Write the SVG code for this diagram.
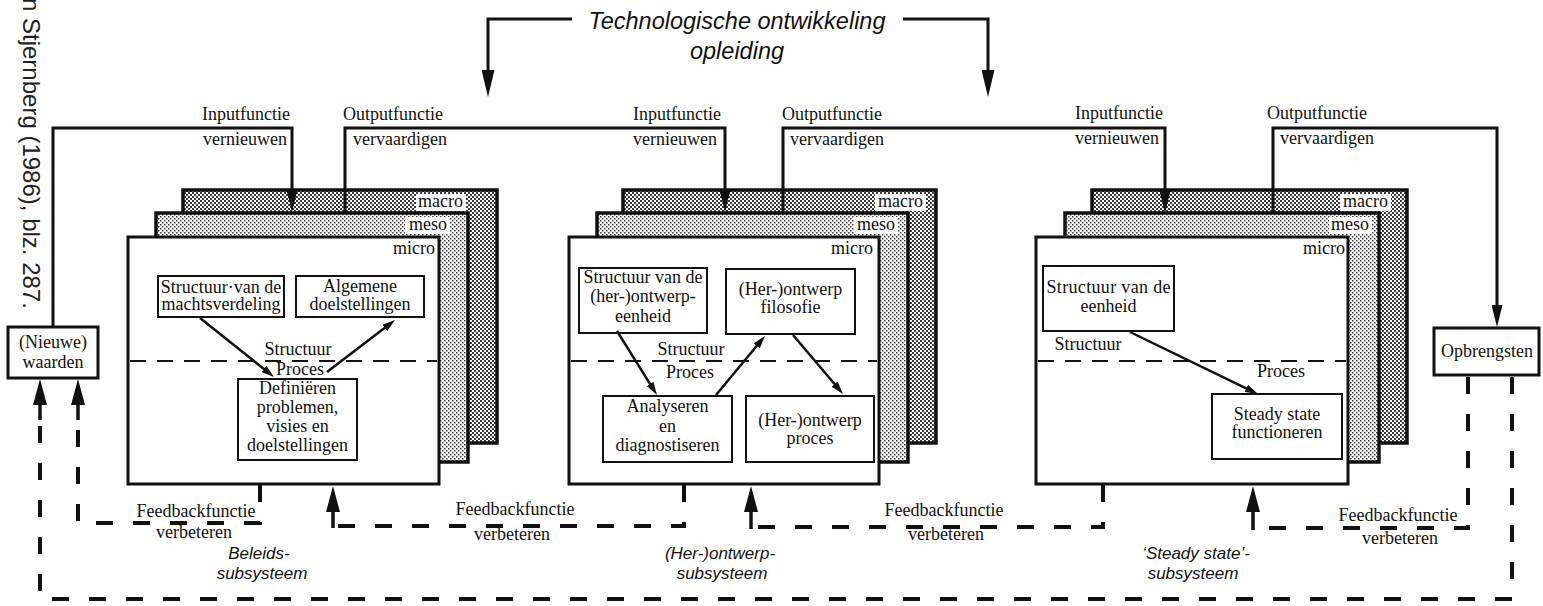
<svg xmlns="http://www.w3.org/2000/svg" width="1543" height="606" viewBox="0 0 1543 606">
<defs>
<pattern id="pMacro" width="4" height="4" patternUnits="userSpaceOnUse"><rect width="4" height="4" fill="#fff"/><rect width="2" height="2" fill="#3a3a3a"/><rect x="2" y="2" width="2" height="2" fill="#3a3a3a"/></pattern>
<pattern id="pMeso" width="4" height="4" patternUnits="userSpaceOnUse"><rect width="4" height="4" fill="#fff"/><rect width="1.5" height="1.5" fill="#3a3a3a"/><rect x="2" y="2" width="1.5" height="1.5" fill="#3a3a3a"/></pattern>
<marker id="ahBig" markerUnits="userSpaceOnUse" viewBox="0 0 27 13" markerWidth="27" markerHeight="13" refX="1" refY="6.5" orient="auto"><path d="M0,0 L27,6.5 L0,13 z" fill="#111"/></marker>
<marker id="ahIn" markerUnits="userSpaceOnUse" viewBox="0 0 22 11" markerWidth="22" markerHeight="11" refX="1" refY="5.5" orient="auto"><path d="M0,0 L22,5.5 L0,11 z" fill="#111"/></marker>
<marker id="ahFb" markerUnits="userSpaceOnUse" viewBox="0 0 26 14" markerWidth="26" markerHeight="14" refX="1" refY="7" orient="auto"><path d="M0,0 L26,7 L0,14 z" fill="#111"/></marker>
<marker id="ahSm" markerUnits="userSpaceOnUse" viewBox="0 0 13 8" markerWidth="13" markerHeight="8" refX="1" refY="4" orient="auto"><path d="M0,0 L13,4 L0,8 z" fill="#111"/></marker>
</defs>
<style>
.t{font-family:"Liberation Serif","Times New Roman",serif;font-size:18px;fill:#111}
.c{text-anchor:middle}
.e{text-anchor:end}
.s{font-family:"Liberation Sans",Arial,sans-serif;font-style:italic;fill:#111}
.macro{fill:url(#pMacro);stroke:#111;stroke-width:3.5}
.meso{fill:url(#pMeso);stroke:#111;stroke-width:3.5}
.micro{fill:#fff;stroke:#111;stroke-width:3}
.box{fill:#fff;stroke:#111;stroke-width:2}
.obox{fill:#fff;stroke:#111;stroke-width:3}
.lbg{fill:#fff}
.sp{stroke:#111;stroke-width:2;stroke-dasharray:16 11;fill:none}
.ln{stroke:#111;stroke-width:3;fill:none}
.fb{stroke:#111;stroke-width:4;stroke-dasharray:17 20;fill:none}
.stub{stroke:#111;stroke-width:3.5;fill:none}
.ia{stroke:#111;stroke-width:2.5;fill:none}
</style>
<rect width="1543" height="606" fill="#fff"/>

<g id="credit">
<text transform="translate(23,-2) rotate(90)" font-family="Liberation Sans, Arial, sans-serif" font-size="24" fill="#222">n Stjernberg (1986), blz. 287.</text>
</g>

<g id="title">
<text class="s c" x="737" y="29" font-size="23.5">Technologische ontwikkeling</text>
<text class="s c" x="737" y="59" font-size="23.5">opleiding</text>
</g>

<g id="sub1">
<rect class="macro" x="183" y="190" width="314" height="253"/>
<rect class="meso" x="156" y="213" width="312" height="249"/>
<rect class="micro" x="128" y="237" width="311" height="247"/>
<rect class="lbg" x="416" y="194" width="50" height="17"/>
<text class="t e" x="463" y="207">macro</text>
<rect class="lbg" x="405" y="217" width="45" height="17"/>
<text class="t e" x="447" y="230">meso</text>
<text class="t e" x="435" y="254">micro</text>
<line class="sp" x1="130" y1="361" x2="437" y2="361"/>
<text class="t c" x="298" y="355">Structuur</text>
<text class="t c" x="300" y="375">Proces</text>
<text class="s c" x="259" y="559" font-size="17">Beleids-</text>
<text class="s c" x="262" y="579" font-size="17">subsysteem</text>
</g>
<g id="n1a"><rect class="box" x="158" y="276" width="126" height="41"/><text class="t c" x="221" y="292.5">Structuur·van de</text><text class="t c" x="221" y="310">machtsverdeling</text></g>
<g id="n1b"><rect class="box" x="296" y="276" width="128" height="41"/><text class="t c" x="360" y="292">Algemene</text><text class="t c" x="360" y="310">doelstellingen</text></g>
<g id="n1c"><rect class="box" x="238" y="379" width="119" height="81"/><text class="t c" x="297.5" y="394">Definiëren</text><text class="t c" x="297.5" y="413">problemen,</text><text class="t c" x="297.5" y="432">visies en</text><text class="t c" x="297.5" y="451">doelstellingen</text></g>

<g id="sub2">
<rect class="macro" x="623" y="190" width="313" height="253"/>
<rect class="meso" x="597" y="213" width="311" height="249"/>
<rect class="micro" x="569" y="237" width="310" height="247"/>
<rect class="lbg" x="875" y="194" width="51" height="17"/>
<text class="t e" x="923" y="207">macro</text>
<rect class="lbg" x="854" y="217" width="44" height="17"/>
<text class="t e" x="895" y="230">meso</text>
<text class="t e" x="873" y="254">micro</text>
<line class="sp" x1="571" y1="361" x2="877" y2="361"/>
<text class="t c" x="691" y="355">Structuur</text>
<text class="t c" x="690" y="378">Proces</text>
<text class="s c" x="720" y="559" font-size="17">(Her-)ontwerp-</text>
<text class="s c" x="722" y="579" font-size="17">subsysteem</text>
</g>
<g id="n2a"><rect class="box" x="579" y="268" width="128" height="65"/><text class="t c" x="643" y="283">Structuur van de</text><text class="t c" x="643" y="302">(her-)ontwerp-</text><text class="t c" x="643" y="322">eenheid</text></g>
<g id="n2b"><rect class="box" x="726" y="269" width="129" height="65"/><text class="t c" x="790.5" y="295">(Her-)ontwerp</text><text class="t c" x="790.5" y="313">filosofie</text></g>
<g id="n2c"><rect class="box" x="603" y="396" width="129" height="66"/><text class="t c" x="667.5" y="412">Analyseren</text><text class="t c" x="667.5" y="432">en</text><text class="t c" x="667.5" y="451">diagnostiseren</text></g>
<g id="n2d"><rect class="box" x="746" y="396" width="128" height="66"/><text class="t c" x="810" y="426">(Her-)ontwerp</text><text class="t c" x="810" y="444">proces</text></g>

<g id="sub3">
<rect class="macro" x="1092" y="190" width="315" height="253"/>
<rect class="meso" x="1065" y="213" width="314" height="249"/>
<rect class="micro" x="1036" y="237" width="312" height="247"/>
<rect class="lbg" x="1340" y="194" width="51" height="17"/>
<text class="t e" x="1388" y="207">macro</text>
<rect class="lbg" x="1329" y="217" width="43" height="17"/>
<text class="t e" x="1369" y="230">meso</text>
<text class="t e" x="1345" y="254">micro</text>
<line class="sp" x1="1038" y1="361" x2="1346" y2="361"/>
<text class="t c" x="1088" y="350">Structuur</text>
<text class="t c" x="1281" y="377">Proces</text>
<text class="s c" x="1196" y="559" font-size="17">‘Steady state’-</text>
<text class="s c" x="1193" y="579" font-size="17">subsysteem</text>
</g>
<g id="n3a"><rect class="box" x="1043" y="266" width="131" height="65"/><text class="t c" x="1108.5" y="293" textLength="124" lengthAdjust="spacing">Structuur van de</text><text class="t c" x="1108.5" y="312">eenheid</text></g>
<g id="n3b"><rect class="box" x="1212" y="394" width="130" height="65"/><text class="t c" x="1277" y="420">Steady state</text><text class="t c" x="1277" y="438">functioneren</text></g>

<g id="nieuwe"><rect class="obox" x="8" y="327" width="90" height="51"/><text class="t c" x="53" y="348">(Nieuwe)</text><text class="t c" x="53" y="368">waarden</text></g>
<g id="opbrengsten"><rect class="obox" x="1434" y="328" width="105" height="47"/><text class="t c" x="1487" y="357">Opbrengsten</text></g>

<g id="connectors">
<path class="ln" d="M572,19 H488 V71" marker-end="url(#ahBig)"/>
<path class="ln" d="M903,19 H988 V71" marker-end="url(#ahBig)"/>
<path class="ln" d="M53,327 V128 H292 V191" marker-end="url(#ahIn)"/>
<path class="ln" d="M345,213 V128 H725 V191" marker-end="url(#ahIn)"/>
<path class="ln" d="M783,213 V128 H1165 V192" marker-end="url(#ahIn)"/>
<path class="ln" d="M1273,213 V128 H1497 V306" marker-end="url(#ahIn)"/>

<path class="ia" d="M200,318 L264.6,369.5" marker-end="url(#ahSm)"/>
<path class="ia" d="M327,372 L385.5,327.3" marker-end="url(#ahSm)"/>
<path class="ia" d="M617,331 L650.6,384.8" marker-end="url(#ahSm)"/>
<path class="ia" d="M716,395 L757.3,345.2" marker-end="url(#ahSm)"/>
<path class="ia" d="M793,335 L835.2,384.8" marker-end="url(#ahSm)"/>
<path class="ia" d="M1130,332 L1247.2,388.8" marker-end="url(#ahSm)"/>

<path class="fb" d="M260,485 V523 H78 V418"/>
<path class="stub" d="M78,420 V404" marker-end="url(#ahFb)"/>
<path class="fb" d="M684,485 V526 H333"/>
<path class="stub" d="M333,528 V511" marker-end="url(#ahFb)"/>
<path class="fb" d="M1103,485 V527 H751"/>
<path class="stub" d="M751,529 V511" marker-end="url(#ahFb)"/>
<path class="fb" d="M1468,377 V528 H1253"/>
<path class="stub" d="M1253,530 V511" marker-end="url(#ahFb)"/>
<path class="fb" d="M1512,377 V599 H40 V418"/>
<path class="stub" d="M40,420 V404" marker-end="url(#ahFb)"/>

<text class="t" x="202" y="120">Inputfunctie</text>
<text class="t" x="203" y="145">vernieuwen</text>
<text class="t" x="343" y="120">Outputfunctie</text>
<text class="t" x="353" y="145">vervaardigen</text>
<text class="t" x="633" y="120">Inputfunctie</text>
<text class="t" x="633" y="145">vernieuwen</text>
<text class="t" x="782" y="120">Outputfunctie</text>
<text class="t" x="790" y="145">vervaardigen</text>
<text class="t" x="1075" y="119">Inputfunctie</text>
<text class="t" x="1075" y="144">vernieuwen</text>
<text class="t" x="1267" y="119">Outputfunctie</text>
<text class="t" x="1280" y="144">vervaardigen</text>

<text class="t c" x="196" y="517">Feedbackfunctie</text>
<text class="t c" x="194" y="538">verbeteren</text>
<text class="t c" x="515" y="515">Feedbackfunctie</text>
<text class="t c" x="512" y="540">verbeteren</text>
<text class="t c" x="944" y="516">Feedbackfunctie</text>
<text class="t c" x="946" y="540">verbeteren</text>
<text class="t c" x="1398" y="521">Feedbackfunctie</text>
<text class="t c" x="1400" y="544">verbeteren</text>
</g>
</svg>
